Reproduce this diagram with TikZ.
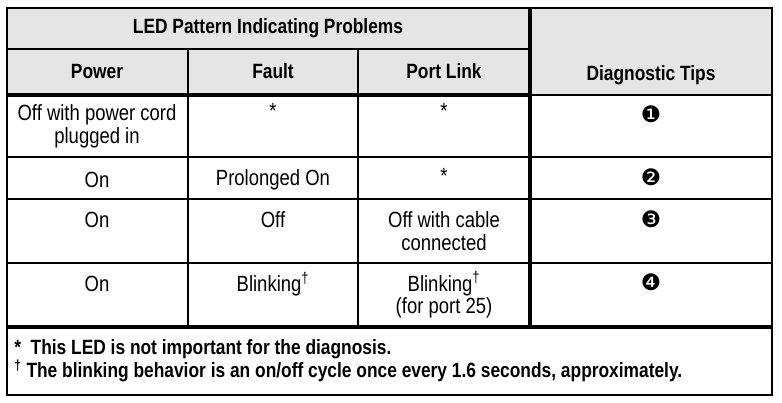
\documentclass[tikz,border=0pt]{standalone}
\usepackage{fontspec}
\setmainfont{Liberation Sans}[FakeStretch=0.84]
\newfontfamily\dingfont{DejaVu Sans}
\begin{document}
\begin{tikzpicture}[x=0.75pt,y=-0.75pt,
  cell/.style={font=\fontsize{16.5}{17}\selectfont,align=center,inner sep=0pt},
  head/.style={cell,font=\fontsize{15.5}{17}\selectfont\bfseries},
  tip/.style={font=\dingfont\fontsize{17}{17}\selectfont,inner sep=0pt},
  thin/.style={line width=1.6pt},
  thick/.style={line width=3.4pt}]
\useasboundingbox (0,0) rectangle (782,403);
%Header shading
\fill[black!10] (7,8) rectangle (772,94);
%Grid
\draw[thin] (7,8) rectangle (772,395);
\draw[thin] (7,49) -- (530,49);
\draw[thick] (7,95) -- (530,95);
\draw[thin] (530,95) -- (772,95);
\draw[thin] (188,49) -- (188,327);
\draw[thin] (358,49) -- (358,327);
\draw[thick] (530,8) -- (530,327);
\draw[thin] (7,157) -- (772,157);
\draw[thin] (7,199) -- (772,199);
\draw[thin] (7,263) -- (772,263);
\draw[thick] (7,327) -- (772,327);
%Headers
\node[head] (title) at (268,28) {LED Pattern Indicating Problems};
\node[head] (power) at (97,71) {Power};
\node[head] (fault) at (273,71) {Fault};
\node[head] (link) at (444,71) {Port Link};
\node[head] (tips) at (651,75) {Diagnostic Tips};
%Row 1
\node[cell] (p1) at (97,126) {Off with power cord\\plugged in};
\node[cell] (f1) at (273,111) {*};
\node[cell] (l1) at (444,111) {*};
\node[tip] (t1) at (651,114) {❶};
%Row 2
\node[cell] (p2) at (97,180) {On};
\node[cell] (f2) at (273,180) {Prolonged On};
\node[cell] (l2) at (444,176) {*};
\node[tip] (t2) at (651,177) {❷};
%Row 3
\node[cell] (p3) at (97,220) {On};
\node[cell] (f3) at (273,220) {Off};
\node[cell] (l3) at (444,231) {Off with cable\\connected};
\node[tip] (t3) at (651,219) {❸};
%Row 4
\node[cell] (p4) at (97,284) {On};
\node[cell] (f4) at (273,284) {Blinking\textsuperscript{\textdagger}};
\node[cell] (l4) at (444,295) {Blinking\textsuperscript{\textdagger}\\(for port 25)};
\node[tip] (t4) at (651,282) {❹};
%Footnotes
\node[head,anchor=west,align=left] (n1) at (14,349) {*\ \ This LED is not important for the diagnosis.};
\node[head,anchor=west,align=left] (n2) at (14,371) {\textsuperscript{\textdagger}\ The blinking behavior is an on/off cycle once every 1.6 seconds, approximately.};
\end{tikzpicture}
\end{document}
